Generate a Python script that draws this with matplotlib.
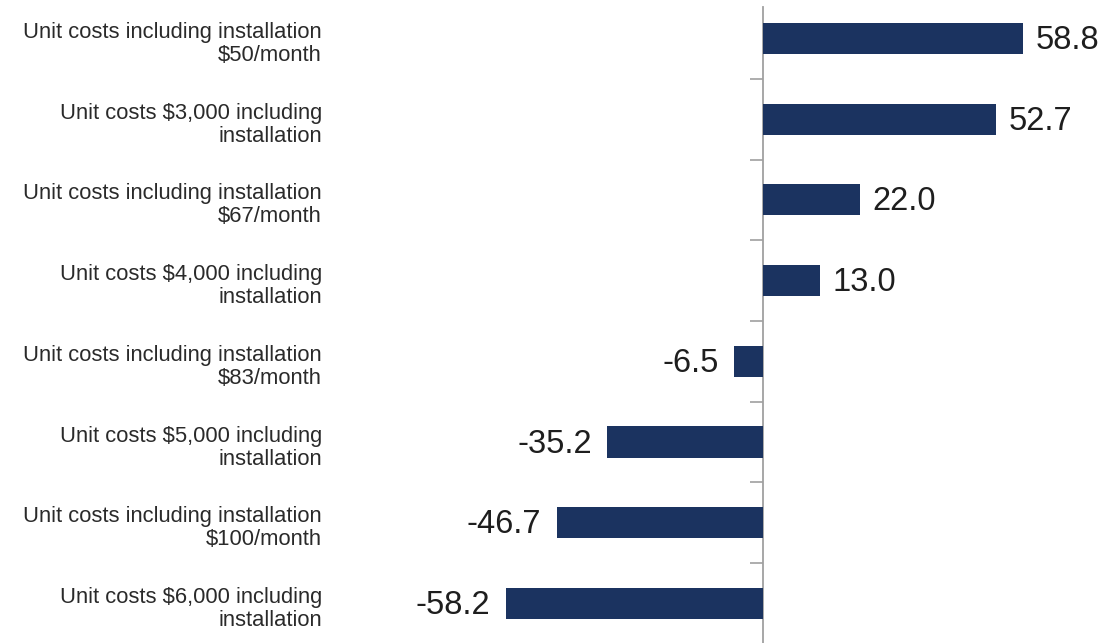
import numpy as np
import matplotlib.pyplot as plt

plt.rcParams['font.family'] = ['Liberation Sans', 'DejaVu Sans']

categories = [
    'Unit costs including installation\n$50/month',
    'Unit costs $3,000 including\ninstallation',
    'Unit costs including installation\n$67/month',
    'Unit costs $4,000 including\ninstallation',
    'Unit costs including installation\n$83/month',
    'Unit costs $5,000 including\ninstallation',
    'Unit costs including installation\n$100/month',
    'Unit costs $6,000 including\ninstallation',
]
values = [58.8, 52.7, 22.0, 13.0, -6.5, -35.2, -46.7, -58.2]

W, H = 1104, 643
fig = plt.figure(figsize=(W / 100, H / 100), dpi=100)
# axes placed in pixel terms: zero line at x=763, ~4.42 px per unit
x0, ppu = 763, 4.42
xmin, xmax = -60, 70
left = x0 + xmin * ppu
right = x0 + xmax * ppu
top, bottom = 7, 643
ax = fig.add_axes([left / W, 1 - bottom / H, (right - left) / W, (bottom - top) / H])

y = np.arange(len(categories))
ax.barh(y, values, height=0.385, color='#1b3360', zorder=3)

for yi, v in zip(y, values):
    off = 9 if v >= 0 else -11
    ax.annotate(f'{v:.1f}', (v, yi), xytext=(off, -1.5), textcoords='offset points',
                ha='left' if v >= 0 else 'right', va='center',
                fontsize=23.5, color='#1e1e1e', annotation_clip=False)

# category names, right-aligned well to the left of the zero line
for yi, cat in zip(y, categories):
    ax.annotate(cat, (0, yi), xytext=(-(x0 - 322) * 0.72, -4), textcoords='offset points',
                ha='right', va='center', multialignment='right',
                fontsize=15.8, color='#2a2a2a', linespacing=1.13, annotation_clip=False)

ax.set_xlim(xmin, xmax)
ax.set_ylim(7.49, -0.39)

for s in ['top', 'right', 'bottom']:
    ax.spines[s].set_visible(False)
ax.spines['left'].set_position(('data', 0))
ax.spines['left'].set_color('#a0a0a0')
ax.spines['left'].set_linewidth(1.3)
ax.set_xticks([])

# tick marks on the boundaries between categories
ax.set_yticks(y[:-1] + 0.5)
ax.set_yticklabels([])
ax.tick_params(axis='y', length=9.4, width=1.2, color='#a0a0a0', direction='out')

fig.savefig('out.png', dpi=100)
